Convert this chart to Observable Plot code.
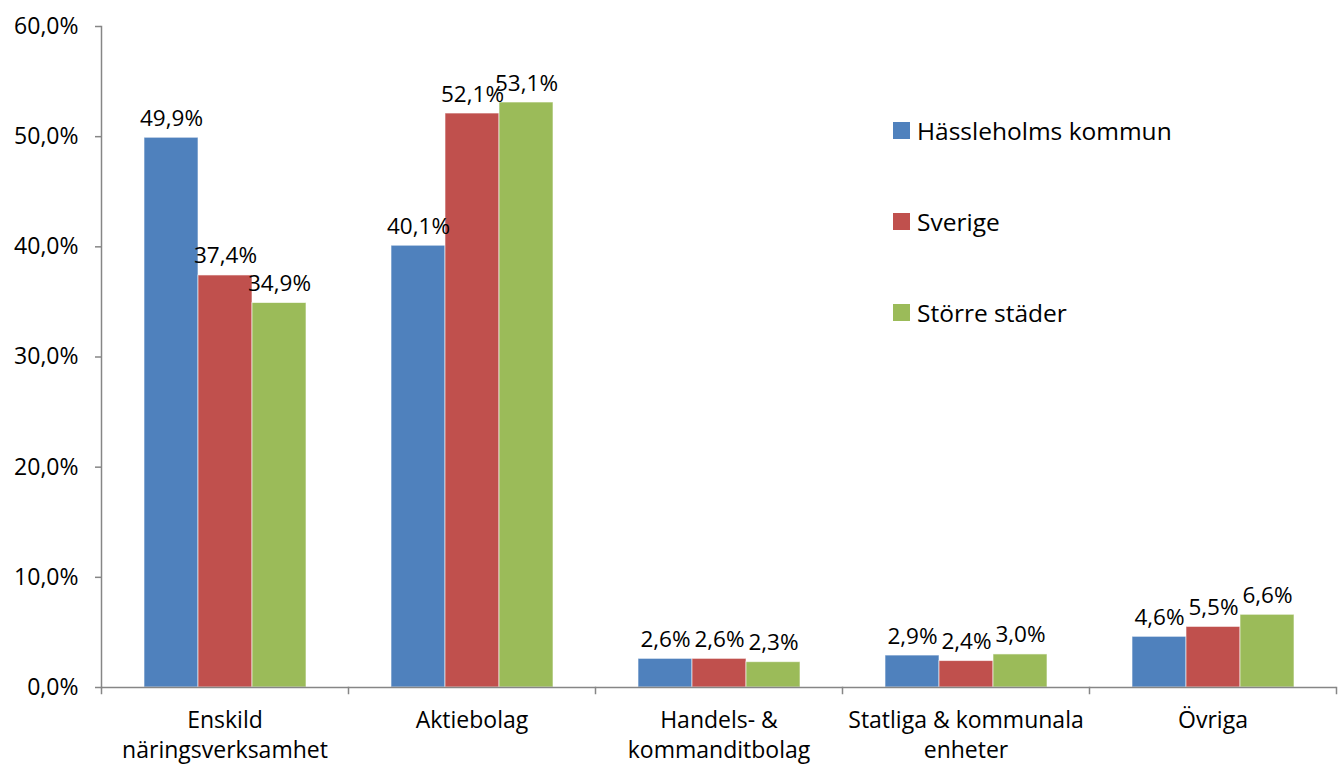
<!DOCTYPE html>
<html>
<head>
<meta charset="utf-8">
<script src="https://cdn.jsdelivr.net/npm/d3@7"></script>
<script src="https://cdn.jsdelivr.net/npm/@observablehq/plot@0.6"></script>
<style>
  html, body { margin: 0; padding: 0; background: #fff; }
  #wrap { position: relative; width: 1342px; height: 765px; font-family: "Open Sans", sans-serif; }
  #legend { position: absolute; left: 893px; top: 112px; font-size: 24.5px; color: #000; }
  .item { display: flex; align-items: center; height: 36px; margin-bottom: 55px; }
  .sw { width: 17px; height: 17px; margin-right: 7px; }
</style>
</head>
<body>
<div id="wrap"><div id="legend"></div></div>
<script>
const categories = ["Enskild\nnäringsverksamhet", "Aktiebolag", "Handels- &\nkommanditbolag", "Statliga & kommunala\nenheter", "Övriga"];
const seriesNames = ["Hässleholms kommun", "Sverige", "Större städer"];
const hassleholm = [49.9, 40.1, 2.6, 2.9, 4.6];
const sverige = [37.4, 52.1, 2.6, 2.4, 5.5];
const storreStader = [34.9, 53.1, 2.3, 3.0, 6.6];
const yTicks = [0, 10, 20, 30, 40, 50, 60];
const colors = ["#4F81BD", "#C0504D", "#9BBB59"];

const seriesValues = [hassleholm, sverige, storreStader];
const data = [];
categories.forEach((c, i) => seriesNames.forEach((s, j) => data.push({cat: c, series: s, value: seriesValues[j][i]})));

const fmt = v => v.toFixed(1).replace(".", ",") + "%";
const axisColor = "#868686";

const chart = Plot.plot({
  width: 1342,
  height: 765,
  marginLeft: 100,
  marginRight: 5,
  marginTop: 26,
  marginBottom: 78,
  style: {fontFamily: "'Open Sans', sans-serif", fontSize: "23px", color: "#000", background: "#fff"},
  fx: {domain: categories, padding: 0, axis: null},
  x: {domain: seriesNames, paddingInner: 0, paddingOuter: 0.75, axis: null},
  y: {domain: [0, 60], axis: null},
  color: {domain: seriesNames, range: colors},
  marks: [
    Plot.barY(data, {fx: "cat", x: "series", y: "value", fill: "series", stroke: "#fff", strokeOpacity: 0.6, strokeWidth: 1}),
    Plot.text(data, {fx: "cat", x: "series", y: "value", text: d => fmt(d.value), lineAnchor: "bottom", dy: -12, fontSize: 22.5, fill: "#000"}),
    Plot.ruleY([0], {stroke: axisColor, strokeWidth: 1.5}),
    Plot.frame({anchor: "left", facetAnchor: "left", stroke: axisColor, strokeWidth: 1.5}),
    Plot.frame({anchor: "left", insetTop: 661, insetBottom: -6, stroke: axisColor, strokeWidth: 1.5}),
    Plot.frame({anchor: "right", facetAnchor: "right", insetTop: 661, insetBottom: -6, stroke: axisColor, strokeWidth: 1.5}),
    Plot.axisY({ticks: yTicks, tickFormat: fmt, tickSize: 6, tickPadding: 17, stroke: axisColor, strokeWidth: 1.5, fill: "#000", fontSize: 23, label: null}),
    Plot.axisFx({anchor: "bottom", tickSize: 0, tickPadding: 20, lineHeight: 1.28, fill: "#000", fontSize: 23, label: null})
  ]
});

document.getElementById("wrap").prepend(chart);
const legend = document.getElementById("legend");
seriesNames.forEach((s, j) => {
  const it = document.createElement("div");
  it.className = "item";
  it.innerHTML = `<div class="sw" style="background:${colors[j]}"></div><span>${s}</span>`;
  legend.appendChild(it);
});
</script>
</body>
</html>
